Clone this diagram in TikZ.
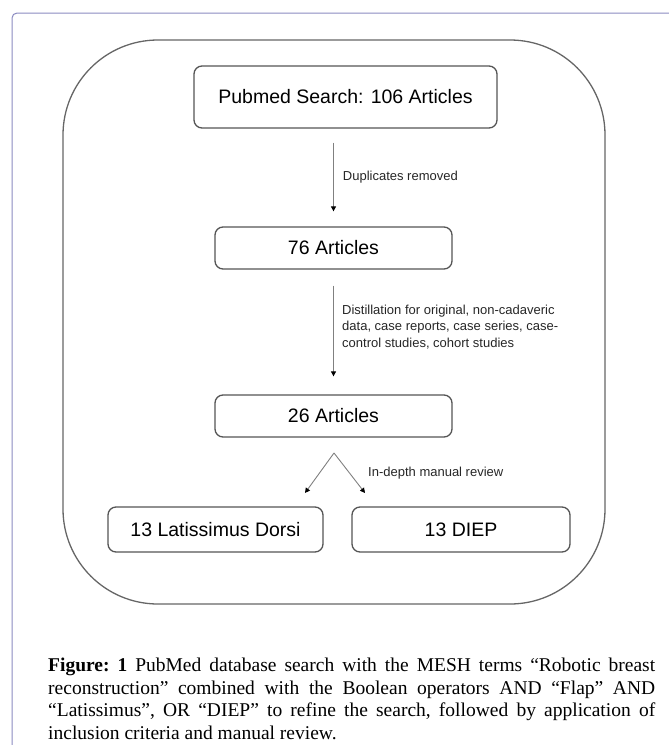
\documentclass[tikz,border=0pt]{standalone}
\usepackage{fontspec}
\setmainfont{Liberation Serif}
\newfontfamily\arialf{Liberation Sans}
\usetikzlibrary{arrows.meta}
\definecolor{framec}{HTML}{8A8AC0}
\definecolor{boxc}{HTML}{555555}
\definecolor{linec}{HTML}{808080}
\begin{document}
\begin{tikzpicture}[x=1pt,y=-1pt,
  flowbox/.style={draw=boxc, line width=1.3pt, rounded corners=8pt, fill=white,
    font=\arialf\fontsize{19.5}{23}\selectfont, inner sep=0pt},
  flowarrow/.style={draw=linec, line width=0.9pt, -{Triangle[length=5pt,width=5pt,color=black]}},
  smalllabel/.style={font=\arialf\fontsize{13}{16.5}\selectfont, text=black!85, inner sep=0pt, align=left}]
\useasboundingbox (0,0) rectangle (669,745);
% page frame
\draw[framec, line width=1pt, rounded corners=5pt] (669,13) -- (12,13) -- (12,745);
% big rounded container
\draw[boxc!90, line width=1.3pt, rounded corners=95pt] (63,40) rectangle (605,604);
% boxes
\node[flowbox, minimum width=303pt, minimum height=62pt] (pub) at (345.5,97) {Pubmed Search: 106 Articles};
\node[flowbox, minimum width=237pt, minimum height=42pt] (n76) at (333.5,248) {76 Articles};
\node[flowbox, minimum width=237pt, minimum height=42pt] (n26) at (333.5,416) {26 Articles};
\node[flowbox, minimum width=215pt, minimum height=45pt] (lat) at (215.5,529.5) {13 Latissimus Dorsi};
\node[flowbox, minimum width=218pt, minimum height=45pt] (diep) at (461,529.5) {13 DIEP};
% arrows
\draw[flowarrow, shorten <=14pt, shorten >=15pt] (n76.north |- pub.south) -- (n76.north)
  node[pos=0.5, right=9pt, smalllabel] {Duplicates removed};
\draw[flowarrow, shorten <=16pt, shorten >=18pt] (n76.south) -- (n26.north);
\node[smalllabel, anchor=west] (distlab) at (342,327) {Distillation for original, non-cadaveric\\data, case reports, case series, case-\\control studies, cohort studies};
\coordinate (apex) at (334,453);
\coordinate (tipl) at (305,493);
\coordinate (tipr) at (365,493);
\draw[flowarrow] (apex) -- (tipl);
\draw[flowarrow] (apex) -- (tipr);
\node[smalllabel, anchor=west] (revlab) at (368,473) {In-depth manual review};
% caption
\node[anchor=north west, text width=607pt, align=justify, inner sep=0pt,
  font=\fontsize{19.5}{22.5}\selectfont\frenchspacing] (cap) at (48,658)
  {\textbf{Figure: 1} PubMed database search with the MESH terms “Robotic breast\linebreak
   reconstruction” combined with the Boolean operators AND “Flap” AND\linebreak
   “Latissimus”, OR “DIEP” to refine the search, followed by application of\linebreak
   inclusion criteria and manual review.};
\end{tikzpicture}
\end{document}
